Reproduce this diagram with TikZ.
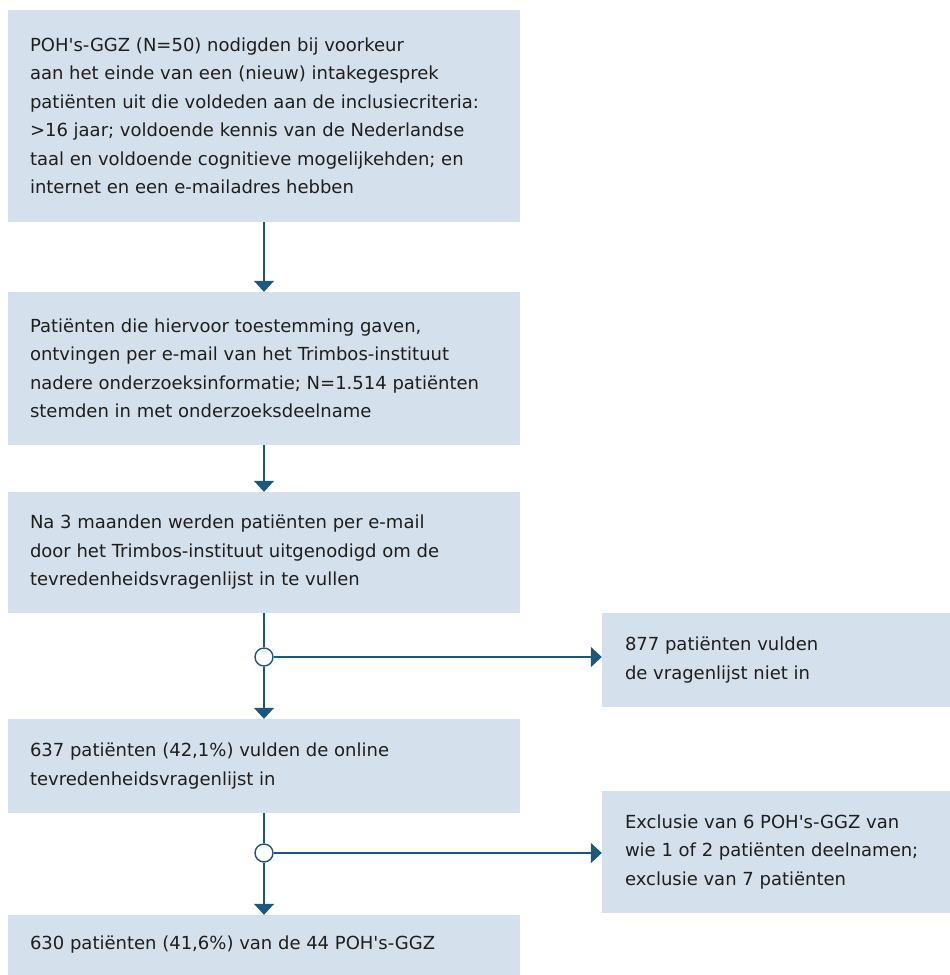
\documentclass[tikz,border=0pt]{standalone}
\usepackage{fontspec}
\newfontfamily\bodyfont{DejaVu Sans}
\usetikzlibrary{arrows.meta}
\definecolor{boxfill}{RGB}{212,225,236}
\definecolor{lineblue}{RGB}{26,88,126}
\definecolor{txtcol}{RGB}{30,30,30}
\begin{document}
\begin{tikzpicture}[x=1pt,y=-1pt,
 box/.style={fill=boxfill, draw=none, inner sep=0pt, minimum width=512pt},
 sbox/.style={fill=boxfill, draw=none, inner sep=0pt, minimum width=348pt},
 txt/.style={anchor=west, align=left, inner sep=0pt, font=\bodyfont\fontsize{18}{28.5}\selectfont, text=txtcol},
 link/.style={draw=lineblue, line width=1.4pt},
 conn/.style={link, -{Triangle[width=20pt,length=11pt]}},
 junc/.style={circle, draw=lineblue, line width=1.4pt, fill=white, minimum size=18pt, inner sep=0pt}]
\useasboundingbox (0,0) rectangle (950,975);
\node[box, minimum height=212pt] (b1) at (264,116) {};
\node[box, minimum height=153pt] (b2) at (264,368.5) {};
\node[box, minimum height=121pt] (b3) at (264,552.5) {};
\node[box, minimum height=94pt] (b4) at (264,766) {};
\node[box, minimum height=60pt] (b5) at (264,945) {};
\node[sbox, minimum height=94pt] (s1) at (776,660) {};
\node[sbox, minimum height=122pt] (s2) at (776,852) {};

\node[txt] (t1) at ([xshift=22pt]b1.west) {POH's-GGZ (N=50) nodigden bij voorkeur\\aan het einde van een (nieuw) intakegesprek\\patiënten uit die voldeden aan de inclusiecriteria:\\>16 jaar; voldoende kennis van de Nederlandse\\taal en voldoende cognitieve mogelijkehden; en\\internet en een e-mailadres hebben};
\node[txt] (t2) at ([xshift=22pt]b2.west) {Patiënten die hiervoor toestemming gaven,\\ontvingen per e-mail van het Trimbos-instituut\\nadere onderzoeksinformatie; N=1.514 patiënten\\stemden in met onderzoeksdeelname};
\node[txt] (t3) at ([xshift=22pt]b3.west) {Na 3 maanden werden patiënten per e-mail\\door het Trimbos-instituut uitgenodigd om de\\tevredenheidsvragenlijst in te vullen};
\node[txt] (t4) at ([xshift=22pt]b4.west) {637 patiënten (42,1\%) vulden de online\\tevredenheidsvragenlijst in};
\node[txt] (t5) at ([xshift=22pt]b5.west) {630 patiënten (41,6\%) van de 44 POH's-GGZ};
\node[txt] (u1) at ([xshift=23pt]s1.west) {877 patiënten vulden\\de vragenlijst niet in};
\node[txt] (u2) at ([xshift=23pt]s2.west) {Exclusie van 6 POH's-GGZ van\\wie 1 of 2 patiënten deelnamen;\\exclusie van 7 patiënten};

\node[junc] (j1) at (264,657) {};
\node[junc] (j2) at (264,853) {};

\draw[conn] (b1.south) -- (b2.north);
\draw[conn] (b2.south) -- (b3.north);
\draw[link] (b3.south) -- (j1.north);
\draw[conn] (j1.south) -- (b4.north);
\draw[conn] (j1.east) -- (j1 -| s1.west);
\draw[link] (b4.south) -- (j2.north);
\draw[conn] (j2.south) -- (b5.north);
\draw[conn] (j2.east) -- (j2 -| s2.west);
\end{tikzpicture}
\end{document}
